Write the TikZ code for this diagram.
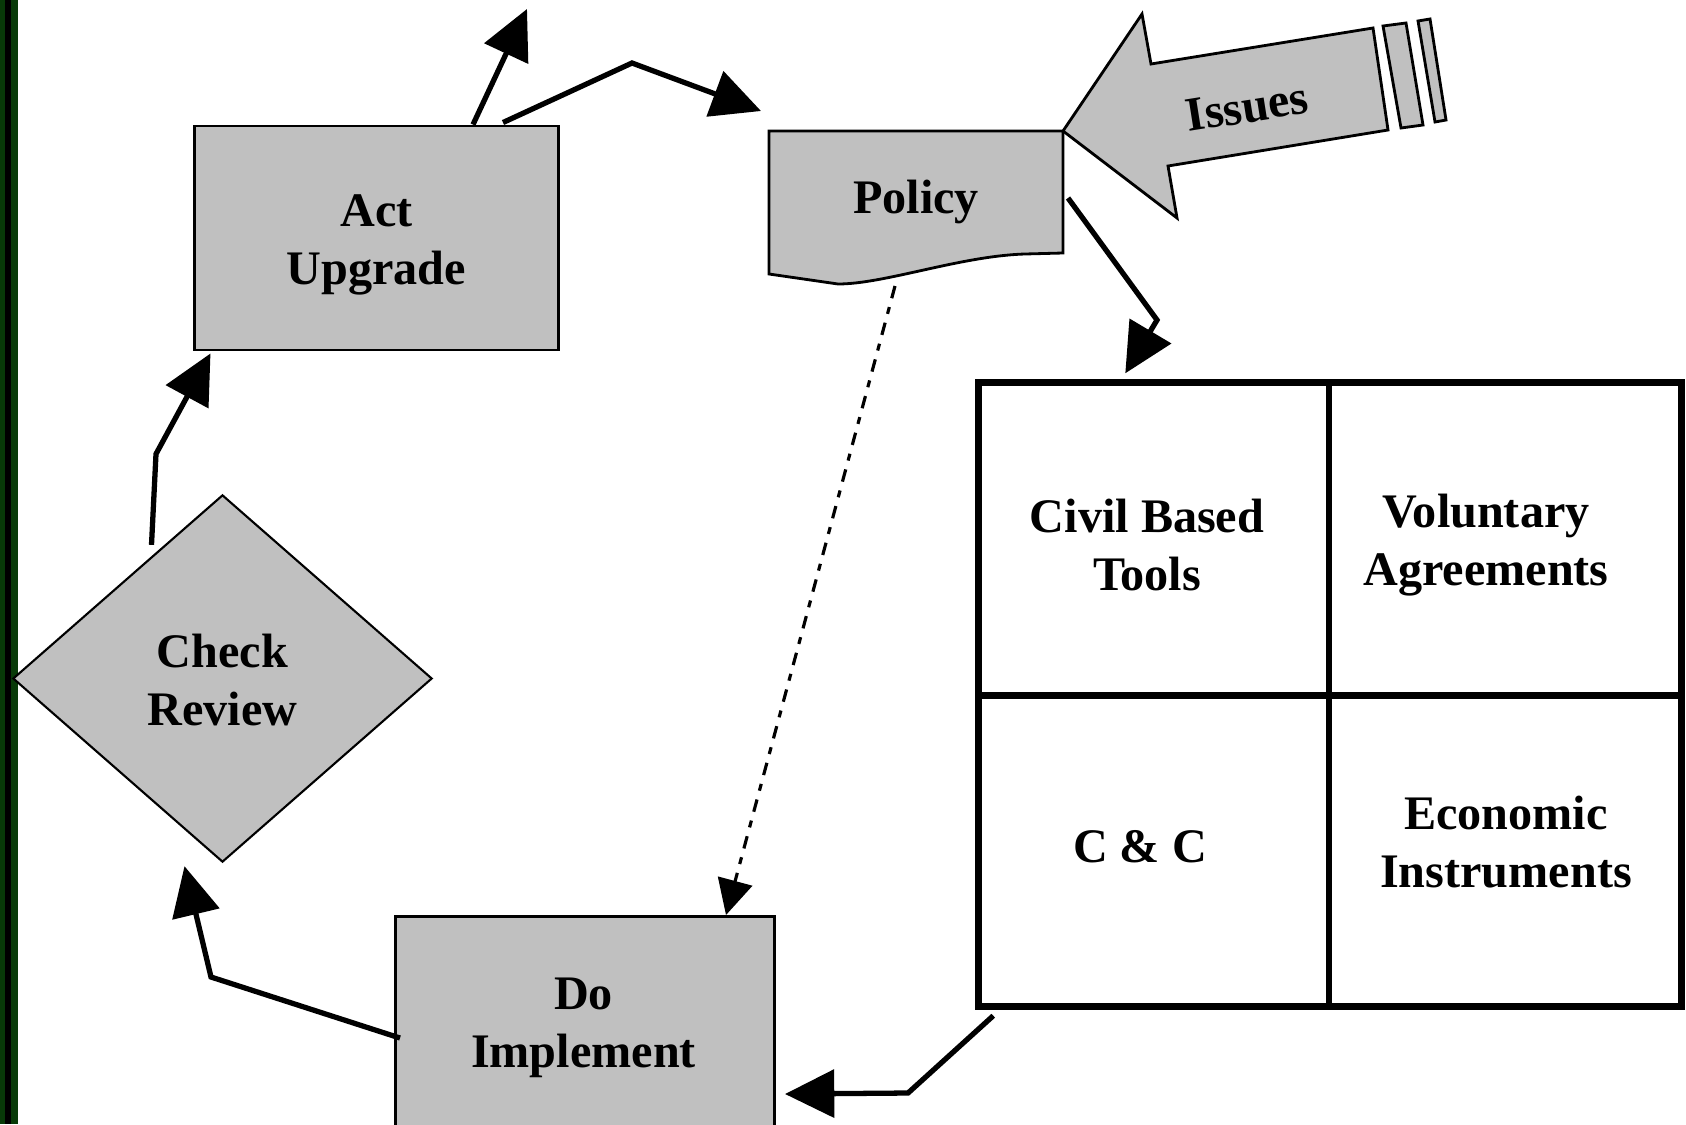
\documentclass[tikz,border=0pt]{standalone}
\usepackage{fontspec}
\setmainfont{Liberation Serif}
\usetikzlibrary{arrows.meta,shapes.geometric,calc}
\definecolor{boxgray}{RGB}{192,192,192}
\definecolor{bargreen}{RGB}{8,58,8}
\begin{document}
\begin{tikzpicture}[x=0.01cm,y=-0.01cm,
  lbl/.style={font=\fontsize{13.7}{16.5}\selectfont\bfseries, align=center, inner sep=0pt},
  graybox/.style={draw=black, fill=boxgray, line width=0.8pt, inner sep=0pt},
  conn/.style={line width=1.5pt, -{Triangle[length=14pt,width=13.5pt]}},
  dotconn/.style={line width=0.9pt, dash pattern=on 3.6pt off 2.6pt on 2pt off 2.6pt, -{Triangle[length=10pt,width=10pt]}}]
\useasboundingbox (0,0) rectangle (1686,1124);
% left bar
\fill[bargreen] (0,0) rectangle (17.5,1124);
\fill[black] (4.5,0) rectangle (11,1124);
% boxes
\node[graybox, minimum width=3.63cm, minimum height=2.24cm] (act) at (376.5,238) {};
\node[lbl] (actT) at (376.5,245) {Act\\Upgrade};
\node[graybox, anchor=north west, minimum width=3.79cm, minimum height=2.5cm] (do) at (394,915) {};
\node[lbl] (doT) at (583.5,1028) {Do\\Implement};
\node[graybox, diamond, line width=0.6pt, minimum width=4.19cm, minimum height=3.67cm] (check) at (222.5,678.5) {};
\node[lbl] (checkT) at (222.5,680) {Check\\Review};
% policy document
\coordinate (polNW) at (769,131);
\coordinate (polNE) at (1063,131);
\draw[graybox] (polNW) -- (polNE) -- (1063,253) -- (1025,254) .. controls (960,256) and (885,284) .. (838,284) -- (769,274) -- cycle;
\node[lbl, anchor=base] (policy) at (916,213) {Policy};
% issues arrow
\draw[graybox, line join=miter] (polNE) -- (1142,14) -- (1151,64) -- (1373,28) -- (1388,130) -- (1168,166) -- (1177,218) -- cycle;
\draw[graybox] (1383,26) -- (1406,23) -- (1423,125) -- (1401,128) -- cycle;
\draw[graybox] (1418,21) -- (1430,19) -- (1446,120) -- (1435,122) -- cycle;
\node[lbl, rotate=9] (issues) at (1247,107) {Issues};
% grid
\node[draw, line width=2pt, minimum width=7.02cm, minimum height=6.23cm, inner sep=0pt] (grid) at (1330,694.5) {};
\draw[line width=1.8pt] ($(grid.north)+(-1,0)$) -- ($(grid.south)+(-1,0)$);
\draw[line width=1.8pt] ($(grid.west)+(0,1)$) -- ($(grid.east)+(0,1)$);
\node[lbl] (civ) at (1147,545) {Civil Based\\Tools};
\node[lbl] (vol) at (1486,545) {Voluntary\\Agreements};
\node[lbl, anchor=base] (cc) at (1140,862) {C \& C};
\node[lbl] (eco) at (1506,842) {Economic\\Instruments};
% connectors
\coordinate (actout) at (527,9);
\draw[conn] ($(act.north)+(96.5,0)$) -- (actout);
\draw[conn] ($(act.north)+(126.5,-2)$) -- (632,63) -- ($(polNW)+(-8,-20)$);
\draw[conn] ($(polNE)+(5,67)$) -- (1157,320) -- ($(grid.north west)+(150,-6)$);
\draw[conn] ($(grid.south west)+(18,6)$) -- (908,1093) -- ($(do.north east)+(9,179)$);
\draw[conn] ($(do.north west)+(6,123)$) -- (211,977) -- ($(check.south)+(-38,3)$);
\draw[conn] ($(check.north)+(-71,51)$) -- (156,454) -- ($(act.south west)+(17,2)$);
\draw[dotconn] ($(polNW)+(126,155)$) -- ($(do.north west)+(332,0)$);
\end{tikzpicture}
\end{document}
